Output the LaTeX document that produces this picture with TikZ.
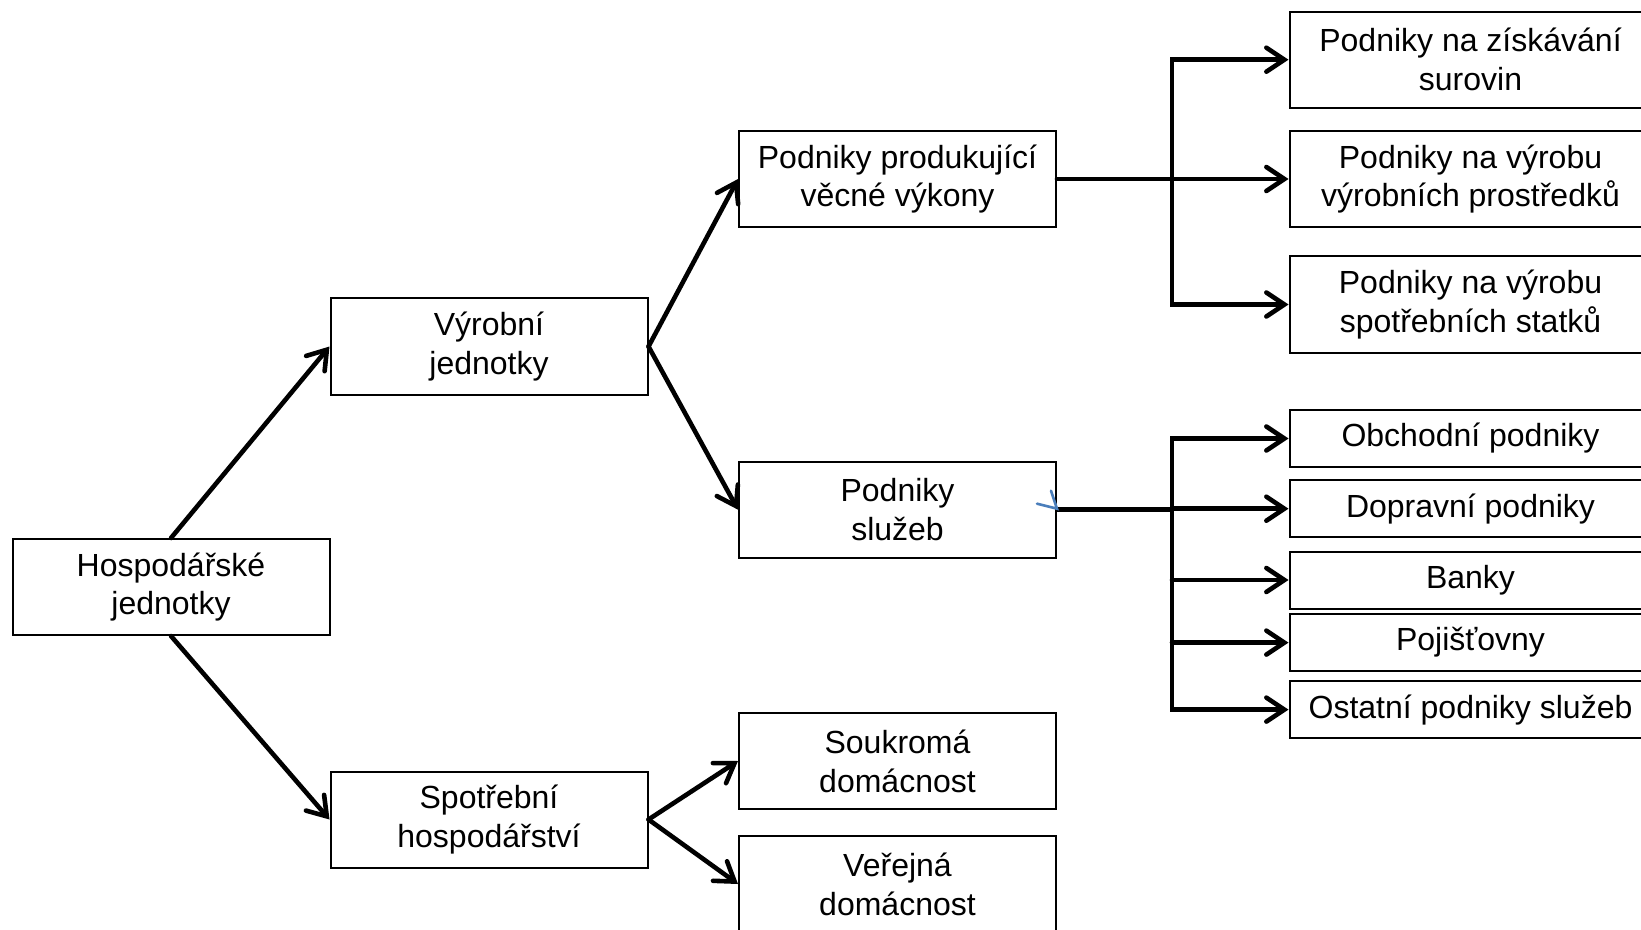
\documentclass[tikz,border=0pt]{standalone}
\usepackage{fontspec}
\setmainfont{Liberation Sans}
\usetikzlibrary{arrows.meta}
\definecolor{markblue}{HTML}{4A7EBB}
\tikzset{
  box/.style={draw=black, line width=1pt, rectangle, minimum width=158.5pt, minimum height=48pt,
    align=center, inner sep=0pt, font=\fontsize{16}{19.4}\selectfont},
  rbox/.style={box, minimum width=181pt},
  sbox/.style={rbox, minimum height=28.5pt},
  arr/.style={line width=2.3pt, line cap=round, -{Straight Barb[length=9pt,width=12pt,line cap=round]}},
}
\begin{document}
\begin{tikzpicture}[x=0.5pt,y=-0.5pt]
\clip (0,0) rectangle (1641,930);
\fill[white] (0,0) rectangle (1641,930);
% left column
\node[box] (hosp) at (171,587) {Hospodářské\\jednotky};
\node[box] (vyr) at (489,346.5) {Výrobní\\jednotky};
\node[box] (spot) at (489,819.5) {Spotřební\\hospodářství};
% middle column
\node[box] (prod) at (897.5,179) {Podniky produkující\\věcné výkony};
\node[box] (sluz) at (897.5,509.7) {Podniky\\služeb};
\node[box] (souk) at (897.5,761) {Soukromá\\domácnost};
\node[box] (ver) at (897.5,884) {Veřejná\\domácnost};
% right column
\node[rbox] (r1) at (1470.5,59.7) {Podniky na získávání\\surovin};
\node[rbox] (r2) at (1470.5,179) {Podniky na výrobu\\výrobních prostředků};
\node[rbox] (r3) at (1470.5,304.5) {Podniky na výrobu\\spotřebních statků};
\node[sbox] (s1) at (1470.5,438.5) {Obchodní podniky};
\node[sbox] (s2) at (1470.5,508.7) {Dopravní podniky};
\node[sbox] (s3) at (1470.5,580) {Banky};
\node[sbox] (s4) at (1470.5,642.6) {Pojišťovny};
\node[sbox] (s5) at (1470.5,709.6) {Ostatní podniky služeb};
\coordinate (busx) at (1172,0);
% connectors
\draw[arr] (hosp.north) -- (vyr.west);
\draw[arr] (hosp.south) -- (spot.west);
\draw[arr] (vyr.east) -- (prod.west);
\draw[arr] (vyr.east) -- (sluz.west);
\draw[arr] (spot.east) -- (souk.west);
\draw[arr] (spot.east) -- (ver.west);
% upper bus
\draw[arr] (prod.east) -- (r2.west);
\draw[arr, line cap=butt] (busx |- r2.west) |- (r1.west);
\draw[arr, line cap=butt] (busx |- r2.west) |- (r3.west);
% lower bus
\draw[line width=2.3pt] (sluz.east) -- (busx |- sluz.east);
\draw[arr, line cap=butt] (busx |- s3.west) |- (s1.west);
\draw[arr] (busx |- s2.west) -- (s2.west);
\draw[arr] (busx |- s3.west) -- (s3.west);
\draw[arr, line cap=butt] (busx |- s3.west) |- (s5.west);
\draw[arr] (busx |- s4.west) -- (s4.west);
% stray blue mark
\coordinate (bt) at (sluz.east);
\draw[markblue, line width=1.3pt, line cap=round] ([shift={(-20,-6)}]bt) -- ([shift={(0,-1)}]bt) -- ([shift={(-6,-19)}]bt);
\end{tikzpicture}
\end{document}
